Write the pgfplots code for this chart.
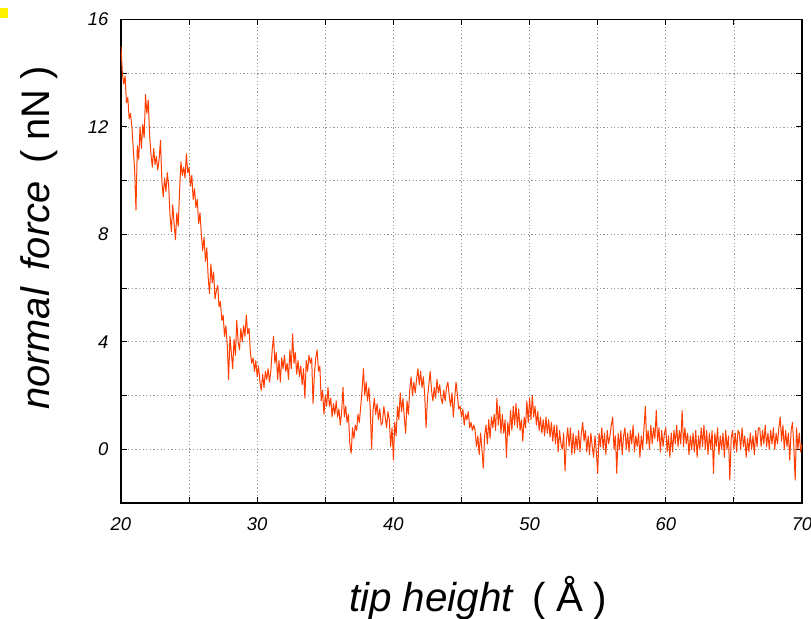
\documentclass[border=0pt]{standalone}
\usepackage{fontspec}
\setmainfont{Liberation Sans}
\usepackage{pgfplots}
\pgfplotsset{compat=1.18}

\definecolor{forcered}{RGB}{255,62,0}
\definecolor{gridgray}{RGB}{150,150,150}

\begin{document}
\begin{tikzpicture}
% fixed page frame: plot area starts at the origin
\path[use as bounding box] (-121bp,-116bp) rectangle (690bp,503bp);
\fill[yellow] (-121bp,485bp) rectangle (-113bp,495bp);
\begin{axis}[
  at={(0,0)}, anchor=south west,
  scale only axis, width=681bp, height=483.5bp,
  xmin=20, xmax=70, ymin=-2, ymax=16,
  xtick={20,25,...,70},
  xticklabels={20,,30,,40,,50,,60,,70},
  ytick={-2,0,...,16},
  yticklabels={,0,,4,,8,,12,,16},
  tick align=inside, tickpos=both,
  major tick length=6bp,
  every tick/.style={black, line width=1bp},
  axis line style={black, line width=1.4bp},
  grid=major,
  major grid style={gridgray, line width=0.7bp, dash pattern=on 1.2bp off 2.4bp},
  /pgf/number format/assume math mode=true,
  tick label style={font=\fontsize{18.5}{20}\selectfont\itshape},
  xticklabel style={yshift=-11bp},
  yticklabel style={xshift=-9bp},
  every axis x label/.style={at={(axis description cs:0.524,-0.2254)}, anchor=base},
  every axis y label/.style={at={(axis description cs:-0.1043,0.548)}, rotate=90, anchor=base},
  xlabel={\fontsize{40.5}{44}\selectfont\textit{tip height}\hspace{0.45em}(\hspace{0.25em}Å\hspace{0.25em})},
  ylabel={\fontsize{40}{44}\selectfont\textit{normal\hspace{0.45em}force}\hspace{0.45em}(\hspace{0.25em}nN\hspace{0.25em})},
]
\addplot[forcered, line width=1.0bp, line join=round]
  table[header=false, row sep=\\, x expr=20+0.1*\coordindex, y index=0] {
15.0\\14.0\\13.6\\13.9\\12.9\\13.1\\12.3\\12.5\\12.0\\11.2\\
10.4\\8.9\\11.3\\10.8\\12.0\\11.2\\12.1\\11.6\\13.2\\12.5\\
13.0\\11.7\\11.0\\10.5\\11.2\\10.6\\10.9\\10.4\\10.8\\11.5\\
10.0\\9.4\\10.1\\9.6\\10.3\\9.8\\8.7\\8.1\\9.1\\8.4\\
7.8\\8.8\\8.3\\9.6\\10.7\\10.2\\10.5\\10.1\\11.0\\10.3\\
10.5\\9.8\\10.2\\9.3\\9.7\\9.0\\9.3\\8.4\\8.8\\8.0\\
7.4\\7.9\\7.0\\7.5\\6.4\\5.8\\6.9\\6.2\\6.6\\5.6\\
5.9\\6.1\\5.3\\5.5\\4.8\\5.0\\4.2\\4.6\\3.9\\2.6\\
4.2\\3.6\\3.0\\4.1\\3.5\\4.8\\4.0\\3.7\\4.5\\4.0\\
4.6\\4.2\\5.0\\4.3\\4.5\\3.6\\3.2\\3.4\\2.9\\3.3\\
2.7\\3.1\\2.5\\2.2\\2.8\\2.3\\2.9\\2.6\\3.0\\2.5\\
2.9\\3.7\\4.2\\3.2\\3.6\\2.6\\3.3\\2.5\\3.4\\3.0\\
3.5\\2.9\\3.2\\2.6\\3.7\\3.0\\4.3\\3.2\\3.6\\2.8\\
3.3\\2.7\\3.1\\2.4\\3.0\\1.9\\3.3\\2.9\\3.5\\3.2\\
3.4\\1.7\\2.8\\3.4\\3.7\\2.9\\3.1\\1.8\\2.2\\1.3\\
2.0\\1.6\\2.3\\1.6\\1.9\\1.2\\1.7\\1.3\\1.8\\1.2\\
1.5\\0.9\\1.4\\2.3\\1.2\\1.6\\1.0\\1.3\\0.2\\-0.15\\
0.8\\0.4\\0.9\\0.7\\1.3\\1.0\\1.6\\2.2\\3.0\\2.0\\
2.5\\1.8\\2.3\\1.5\\0.0\\1.4\\1.9\\1.3\\1.7\\1.1\\
1.5\\0.9\\1.0\\1.6\\1.2\\0.8\\1.4\\1.1\\0.1\\0.8\\
-0.4\\1.0\\0.5\\1.6\\1.1\\2.1\\1.4\\1.9\\1.2\\0.6\\
1.8\\1.3\\2.2\\2.7\\2.0\\2.5\\2.1\\2.6\\3.0\\2.4\\
2.9\\2.3\\2.7\\2.0\\0.8\\1.9\\2.4\\2.9\\2.2\\1.8\\
2.3\\1.9\\2.6\\2.1\\2.4\\1.9\\1.7\\2.2\\1.8\\2.3\\
2.5\\2.0\\1.6\\2.1\\1.2\\1.9\\2.5\\2.0\\1.5\\1.6\\
1.2\\1.5\\0.9\\1.3\\1.1\\1.4\\0.8\\1.0\\0.7\\0.9\\
0.7\\0.1\\0.5\\-0.2\\0.6\\0.0\\-0.7\\0.5\\0.9\\0.2\\
1.1\\0.4\\1.2\\0.8\\1.3\\0.7\\1.9\\0.9\\1.6\\0.6\\
1.3\\0.6\\1.1\\-0.3\\1.0\\0.5\\1.45\\0.7\\1.6\\0.9\\
1.7\\0.8\\1.5\\0.7\\1.1\\0.3\\1.2\\0.8\\1.8\\1.0\\
1.9\\1.1\\2.0\\1.2\\1.6\\0.9\\1.4\\0.7\\1.2\\0.6\\
1.1\\0.5\\1.2\\0.6\\1.1\\0.45\\1.0\\0.3\\0.9\\0.2\\
0.9\\-0.1\\0.7\\0.2\\0.0\\0.6\\-0.8\\0.3\\0.8\\0.1\\
0.8\\-0.2\\0.6\\-0.15\\0.5\\0.0\\0.7\\-0.1\\0.6\\1.0\\
0.3\\0.7\\-0.1\\0.5\\-0.2\\0.6\\0.1\\-0.3\\0.5\\-0.1\\
-0.9\\0.6\\0.1\\0.8\\0.0\\0.6\\-0.2\\0.7\\0.2\\0.5\\
0.9\\1.2\\0.0\\0.5\\-0.9\\0.6\\0.0\\0.7\\-0.2\\0.5\\
0.8\\0.0\\0.6\\-0.1\\0.7\\0.2\\0.9\\-0.1\\0.5\\0.1\\
0.6\\-0.3\\0.5\\0.0\\0.8\\1.6\\0.2\\0.7\\0.0\\0.9\\
0.2\\0.8\\0.4\\1.45\\0.3\\0.8\\-0.1\\0.7\\0.1\\0.6\\
0.8\\-0.1\\0.5\\-0.3\\0.6\\-0.1\\0.7\\0.2\\0.9\\0.1\\
0.7\\0.2\\1.45\\0.1\\0.8\\0.2\\0.6\\-0.2\\0.5\\0.0\\
0.6\\-0.1\\0.7\\-0.3\\0.5\\0.0\\0.8\\0.1\\0.9\\0.0\\
0.7\\-0.2\\0.6\\0.0\\0.7\\-0.9\\0.6\\0.1\\0.8\\-0.2\\
0.5\\0.0\\0.6\\-0.3\\0.7\\0.0\\0.5\\-1.15\\0.4\\0.7\\
0.0\\0.6\\-0.1\\0.7\\0.6\\0.0\\0.8\\0.1\\0.5\\-0.3\\
0.4\\-0.1\\0.6\\0.0\\0.5\\-0.2\\0.7\\0.1\\0.8\\0.8\\
0.1\\0.7\\0.2\\0.9\\0.1\\0.6\\0.0\\0.7\\0.2\\0.8\\
0.0\\0.6\\0.2\\0.8\\1.2\\0.3\\0.9\\0.0\\0.7\\0.1\\
0.6\\-0.4\\0.7\\1.0\\0.1\\-1.15\\0.8\\0.0\\0.6\\-0.1\\
0.2\\
};
\end{axis}
\end{tikzpicture}
\end{document}
